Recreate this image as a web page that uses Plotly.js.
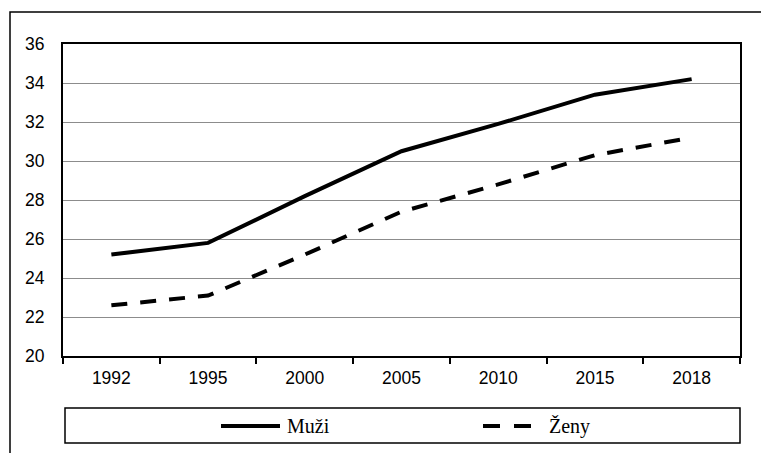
<!DOCTYPE html>
<html>
<head>
<meta charset="utf-8">
<script src="https://cdn.plot.ly/plotly-3.0.1.min.js"></script>
<style>html,body{margin:0;padding:0;background:#fff;}#chart{width:761px;height:453px;}</style>
</head>
<body>
<div id="chart"></div>
<script>
const years = ["1992", "1995", "2000", "2005", "2010", "2015", "2018"];
const muzi = [25.2, 25.8, 28.2, 30.5, 31.9, 33.4, 34.2];
const zeny = [22.6, 23.1, 25.2, 27.4, 28.8, 30.3, 31.2];
const seriesNames = ["Muži", "Ženy"];

const W = 761, H = 453;
const L = 63, R = 21, T = 44, B = 97;
const pw = W - L - R, ph = H - T - B;
const px = x => (x - L) / pw;
const py = y => (H - B - y) / ph;
const dashPat = "16px,13px";
const serif = "Liberation Serif";

const traces = [
  {x: years, y: muzi, name: seriesNames[0], type: "scatter", mode: "lines",
   line: {color: "#000", width: 4}, showlegend: false, hoverinfo: "skip"},
  {x: years, y: zeny, name: seriesNames[1], type: "scatter", mode: "lines",
   line: {color: "#000", width: 4, dash: dashPat}, showlegend: false, hoverinfo: "skip"}
];

const shapes = [
  {type: "rect", xref: "paper", yref: "paper", x0: px(10), x1: px(780), y0: py(480), y1: py(12),
   line: {color: "#000", width: 1.5}, layer: "below"},
  {type: "rect", xref: "paper", yref: "paper", x0: px(65), x1: px(740), y0: py(443), y1: py(408),
   line: {color: "#000", width: 1.5}},
  {type: "line", xref: "paper", yref: "paper", x0: px(221), x1: px(280), y0: py(426), y1: py(426),
   line: {color: "#000", width: 4}},
  {type: "line", xref: "paper", yref: "paper", x0: px(483), x1: px(533), y0: py(426), y1: py(426),
   line: {color: "#000", width: 4, dash: "17px,14px"}}
];

const annotations = [
  {xref: "paper", yref: "paper", x: px(285), y: py(426), xanchor: "left", yanchor: "middle",
   text: seriesNames[0], showarrow: false, font: {family: serif, size: 20, color: "#000"}},
  {xref: "paper", yref: "paper", x: px(547), y: py(426), xanchor: "left", yanchor: "middle",
   text: seriesNames[1], showarrow: false, font: {family: serif, size: 20, color: "#000"}}
];

const layout = {
  width: W, height: H,
  margin: {l: L, r: R, t: T, b: B, pad: 0},
  paper_bgcolor: "#fff", plot_bgcolor: "#fff",
  showlegend: false,
  font: {family: "Liberation Sans", size: 17.5, color: "#000"},
  xaxis: {
    type: "category", range: [-0.5, 6.5], tickson: "boundaries",
    ticks: "outside", ticklen: 6, tickwidth: 2, tickcolor: "#000",
    ticklabelstandoff: 5,
    tickfont: {family: "Liberation Sans", size: 17.5, color: "#000"},
    showline: true, linecolor: "#000", linewidth: 2, mirror: true,
    showgrid: false, zeroline: false, fixedrange: true
  },
  yaxis: {
    range: [20, 36], dtick: 2, tick0: 20,
    ticks: "outside", ticklen: 13, tickcolor: "rgba(0,0,0,0)",
    tickfont: {family: "Liberation Sans", size: 17.5, color: "#000"},
    showline: true, linecolor: "#000", linewidth: 2, mirror: true,
    showgrid: true, gridcolor: "#8c8c8c", gridwidth: 1, zeroline: false, fixedrange: true
  },
  shapes: shapes,
  annotations: annotations
};

Plotly.newPlot("chart", traces, layout, {staticPlot: true, displayModeBar: false});
</script>
</body>
</html>
